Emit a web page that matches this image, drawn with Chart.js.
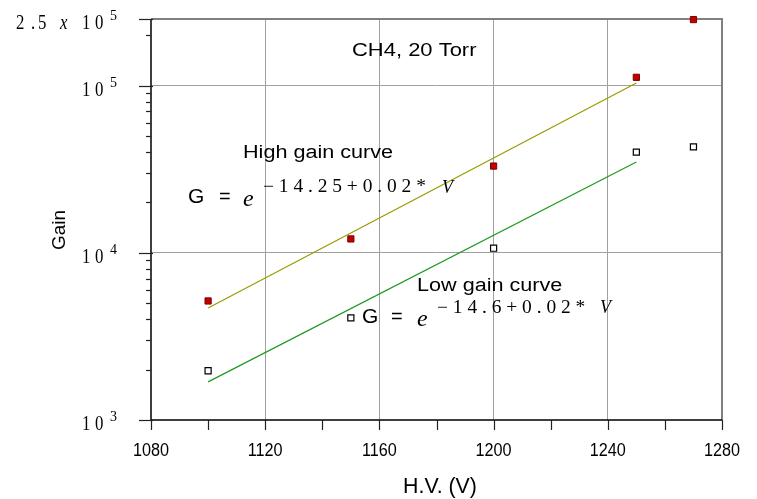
<!DOCTYPE html>
<html><head><meta charset="utf-8">
<script src="https://cdn.jsdelivr.net/npm/chart.js@4/dist/chart.umd.min.js"></script>
<style>html,body{margin:0;padding:0;background:#fff}#wrap{width:757px;height:499px}</style>
</head><body><div id="wrap"><canvas id="c" width="757" height="499"></canvas></div>
<script>
const hvValues = [1100, 1150, 1200, 1250, 1270];
const highGain = [5150, 12100, 33000, 112000, 248000];
const lowGain = [1970, 4080, 10650, 40000, 43000];
const highFitV = [1100, 1250];
const highFit = [4680, 103500];
const lowFitV = [1100, 1250];
const lowFit = [1690, 34900];
const xTicks = [1080, 1100, 1120, 1140, 1160, 1180, 1200, 1220, 1240, 1260, 1280];
const xLabels = [1080, 1120, 1160, 1200, 1240, 1280];
const xGrid = [1120, 1160, 1200, 1240];
const yMajor = [1000, 10000, 100000];
const yMinor = [2000,3000,4000,5000,6000,7000,8000,9000,20000,30000,40000,50000,60000,70000,80000,90000,200000];
const yTop = 250000;

const SERIF = '"Liberation Serif", "Times New Roman", serif';
const SANS = '"Liberation Sans", Arial, sans-serif';

function txt(ctx, s, x, y, font, align, sx) {
  ctx.save();
  ctx.font = font;
  ctx.textAlign = align || 'left';
  ctx.textBaseline = 'alphabetic';
  ctx.fillStyle = '#000';
  ctx.translate(x, y);
  ctx.scale(sx || 1, 1);
  ctx.fillText(s, 0, 0);
  ctx.restore();
}

const deco = {
  id: 'deco',
  beforeDatasetsDraw(chart) {
    const ctx = chart.ctx, xs = chart.scales.x, ys = chart.scales.y, a = chart.chartArea;
    ctx.save();
    ctx.strokeStyle = '#808080'; ctx.lineWidth = 2;
    ctx.beginPath();
    ctx.moveTo(a.left, a.top); ctx.lineTo(a.right, a.top); ctx.lineTo(a.right, a.bottom);
    ctx.stroke();
    ctx.strokeStyle = '#000'; ctx.lineWidth = 1.5;
    ctx.beginPath();
    ctx.moveTo(a.left, a.top); ctx.lineTo(a.left, a.bottom); ctx.lineTo(a.right, a.bottom);
    ctx.stroke();
    ctx.lineWidth = 1.2;
    ctx.strokeStyle = '#222';
    xTicks.forEach(v => {
      const x = Math.round(xs.getPixelForValue(v)) + 0.5;
      ctx.beginPath(); ctx.moveTo(x, a.bottom); ctx.lineTo(x, a.bottom + 10); ctx.stroke();
    });
    yMajor.concat([yTop]).forEach(v => {
      const y = Math.round(ys.getPixelForValue(v)) + 0.5;
      ctx.beginPath(); ctx.moveTo(a.left - 12, y); ctx.lineTo(a.left + 2, y); ctx.stroke();
    });
    yMinor.forEach(v => {
      const y = Math.round(ys.getPixelForValue(v)) + 0.5;
      ctx.beginPath(); ctx.moveTo(a.left - 5, y); ctx.lineTo(a.left, y); ctx.stroke();
    });
    ctx.restore();
  },
  afterDraw(chart) {
    const ctx = chart.ctx, xs = chart.scales.x, ys = chart.scales.y, a = chart.chartArea;
    ctx.save();
    xLabels.forEach(v => {
      txt(ctx, String(v), xs.getPixelForValue(v), a.bottom + 36, '18px ' + SANS, 'center', 0.9);
    });
    const yLab = (y) => {
      txt(ctx, '1', 82, y + 10, '21px ' + SERIF, 'left', 0.8);
      txt(ctx, '0', 95, y + 10, '21px ' + SERIF, 'left', 0.8);
    };
    yMajor.forEach(v => {
      const y = ys.getPixelForValue(v);
      const exp = Math.round(Math.log10(v));
      yLab(y);
      txt(ctx, String(exp), 110, y + 1, '14px ' + SERIF, 'left', 1);
    });
    {
      const y = ys.getPixelForValue(yTop);
      yLab(y);
      txt(ctx, '5', 110, y + 1, '14px ' + SERIF, 'left', 1);
      txt(ctx, 'x', 60, y + 10, 'italic 21px ' + SERIF, 'left', 0.8);
      txt(ctx, '2', 16, y + 10, '21px ' + SERIF, 'left', 0.8);
      txt(ctx, '.', 31, y + 10, '21px ' + SERIF, 'left', 0.8);
      txt(ctx, '5', 38, y + 10, '21px ' + SERIF, 'left', 0.8);
    }
    txt(ctx, 'H.V. (V)', 440, 493, '22px ' + SANS, 'center', 0.97);
    ctx.save();
    ctx.translate(65, 230); ctx.rotate(-Math.PI / 2);
    txt(ctx, 'Gain', 0, 0, '18px ' + SANS, 'center', 1.05);
    ctx.restore();
    txt(ctx, 'CH4, 20 Torr', 352, 56, '18px ' + SANS, 'left', 1.22);
    txt(ctx, 'High gain curve', 243, 158, '18px ' + SANS, 'left', 1.2);
    txt(ctx, 'G', 188, 203, '20px ' + SANS, 'left', 1.05);
    txt(ctx, '=', 219, 203, '20px ' + SANS, 'left', 1);
    txt(ctx, 'e', 243, 206, 'italic 24px ' + SERIF, 'left', 1);
    txt(ctx, '\u2212 1 4 . 2 5 + 0 . 0 2 *', 263, 192, '18px ' + SERIF, 'left', 1.08);
    txt(ctx, 'V', 442, 193, 'italic 18px ' + SERIF, 'left', 1);
    txt(ctx, 'Low gain curve', 417, 291, '18px ' + SANS, 'left', 1.2);
    txt(ctx, 'G', 362, 323, '20px ' + SANS, 'left', 1.05);
    txt(ctx, '=', 391, 323, '20px ' + SANS, 'left', 1);
    txt(ctx, 'e', 417, 326, 'italic 24px ' + SERIF, 'left', 1);
    txt(ctx, '\u2212 1 4 . 6 + 0 . 0 2 *', 437, 313, '18px ' + SERIF, 'left', 1.08);
    txt(ctx, 'V', 600, 313, 'italic 18px ' + SERIF, 'left', 1);
    ctx.restore();
  }
};

new Chart(document.getElementById('c'), {
  type: 'scatter',
  data: {
    datasets: [
      { data: highFitV.map((v, i) => ({x: v, y: highFit[i]})), showLine: true, borderColor: '#9a9a00', borderWidth: 1.2, pointRadius: 0, fill: false },
      { data: lowFitV.map((v, i) => ({x: v, y: lowFit[i]})), showLine: true, borderColor: '#1e9a1e', borderWidth: 1.2, pointRadius: 0, fill: false },
      { data: hvValues.map((v, i) => ({x: v, y: highGain[i]})), pointStyle: 'rect', pointRadius: 4.4, backgroundColor: '#c00000', borderColor: '#800000', borderWidth: 1, clip: false },
      { data: hvValues.map((v, i) => ({x: v, y: lowGain[i]})), pointStyle: 'rect', pointRadius: 4.3, backgroundColor: '#ffffff', borderColor: '#000000', borderWidth: 1.2, clip: false }
    ]
  },
  options: {
    responsive: false,
    animation: false,
    events: [],
    layout: { padding: { left: 0, top: 19, right: 35, bottom: 0 } },
    plugins: { legend: { display: false }, tooltip: { enabled: false } },
    scales: {
      x: {
        type: 'linear', min: 1080, max: 1280,
        afterFit: s => { s.height = 79; },
        afterBuildTicks: s => { s.ticks = xGrid.map(v => ({value: v})); },
        ticks: { display: false },
        border: { display: false },
        grid: { color: '#a0a0a0', lineWidth: 1, drawTicks: false }
      },
      y: {
        type: 'logarithmic', min: 1000, max: yTop,
        afterFit: s => { s.width = 151; },
        afterBuildTicks: s => { s.ticks = [10000, 100000].map(v => ({value: v})); },
        ticks: { display: false },
        border: { display: false },
        grid: { color: '#a0a0a0', lineWidth: 1, drawTicks: false }
      }
    }
  },
  plugins: [deco]
});
</script>
</body></html>
